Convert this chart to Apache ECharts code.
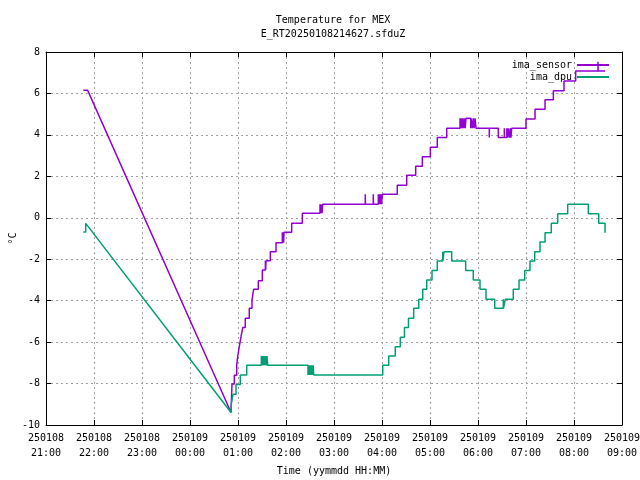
<!DOCTYPE html>
<html>
<head>
<meta charset="utf-8">
<script src="https://cdn.jsdelivr.net/npm/echarts@6.0.0/dist/echarts.min.js"></script>
<style>
  html, body { margin: 0; background: #fff; }
  #chart { width: 640px; height: 480px; }
</style>
</head>
<body>
<div id="chart"></div>
<script>
// time is in minutes after 250108 21:00, temperatures in degC
const xTickLabels = [
  '250108\n21:00', '250108\n22:00', '250108\n23:00', '250109\n00:00',
  '250109\n01:00', '250109\n02:00', '250109\n03:00', '250109\n04:00',
  '250109\n05:00', '250109\n06:00', '250109\n07:00', '250109\n08:00',
  '250109\n09:00'
];

// ima_sensor: each reading level held from..to
const sensorFrom = [46.6, 231.3, 232.5, 235.4, 238.4, 239.6, 241.6, 243.8, 245.9, 249.1,
  254.1, 257.5, 259.5, 265.4, 270.4, 274.2, 274.6, 275.0, 280.4, 287.5,
  295.4, 296.0, 296.6, 297.0, 297.5, 307.1, 320.4, 342.5, 343.3, 344.2,
  345.0, 345.9, 399.1, 399.3, 409.1, 409.3, 415.4, 416.2, 417.0, 417.8,
  418.6, 419.4, 420.4, 439.1, 450.9, 462.1, 470.4, 480.4, 489.1, 500.9,
  517.5, 518.5, 519.3, 520.0, 520.8, 522.0, 523.0, 524.0, 525.0, 530.9,
  531.3, 533.0, 534.0, 535.2, 536.3, 537.5, 554.1, 554.3, 565.4, 572.9,
  573.1, 576.0, 577.0, 578.0, 579.3, 580.5, 581.2, 582.1, 600.0, 611.3,
  623.8, 634.2, 647.5, 662.1, 690.0, 690.2];
const sensorTo = [52.1, 232.5, 235.4, 238.4, 239.6, 241.6, 243.8, 245.9, 249.1, 254.1,
  257.5, 259.5, 265.4, 270.4, 274.2, 274.6, 275.0, 280.4, 287.5, 295.4,
  296.0, 296.6, 297.0, 297.5, 307.1, 320.4, 342.5, 343.3, 344.2, 345.0,
  345.9, 399.1, 399.3, 409.1, 409.3, 415.4, 416.2, 417.0, 417.8, 418.6,
  419.4, 420.4, 439.1, 450.9, 462.1, 470.4, 480.4, 489.1, 500.9, 517.5,
  518.5, 519.3, 520.0, 520.8, 522.0, 523.0, 524.0, 525.0, 530.9, 531.3,
  533.0, 534.0, 535.2, 536.3, 537.5, 554.1, 554.3, 565.4, 572.9, 573.1,
  576.0, 577.0, 578.0, 579.3, 580.5, 581.2, 582.1, 600.0, 611.3, 623.8,
  634.2, 647.5, 662.1, 690.0, 690.2, 698.8];
const sensorTemp = [6.15, -9.40, -8.02, -7.60, -7.12, -6.70, -6.22, -5.74, -5.30, -4.85,
  -4.37, -3.97, -3.45, -3.04, -2.52, -2.07, -2.52, -2.07, -1.64, -1.20,
  -0.70, -1.20, -0.70, -1.20, -0.70, -0.27, 0.22, 0.65, 0.22, 0.65,
  0.22, 0.65, 1.13, 0.65, 1.13, 0.65, 1.13, 0.65, 1.13, 0.65,
  1.13, 0.65, 1.13, 1.57, 2.05, 2.49, 2.95, 3.40, 3.87, 4.32,
  4.80, 4.32, 4.80, 4.32, 4.80, 4.32, 4.80, 4.32, 4.80, 4.32,
  4.80, 4.32, 4.80, 4.32, 4.80, 4.32, 3.87, 4.32, 3.87, 4.32,
  3.87, 4.32, 3.87, 4.32, 3.87, 4.32, 3.87, 4.32, 4.77, 5.24,
  5.69, 6.13, 6.60, 7.08, 7.53, 7.08];

// ima_dpu
const dpuFrom = [46.6, 49.6, 231.3, 231.6, 233.8, 237.5, 242.9, 250.9,
  269.2, 269.8, 270.3, 271.3, 271.7, 272.6, 273.2, 274.0, 274.6, 275.6, 276.2, 277.1,
  327.5, 328.0, 328.5, 329.0, 329.5, 330.0, 330.5, 331.0, 331.5, 332.0, 332.5, 333.0, 333.5, 334.0,
  334.6, 420.9, 428.4, 436.6, 442.9, 448.1, 453.1, 459.6, 465.9, 470.9,
  475.9, 482.5, 489.1, 495.9, 496.1, 497.5, 507.1, 524.6, 534.1, 542.5,
  550.0, 560.9, 571.6, 571.8, 574.1, 584.1, 591.3, 598.4, 605.0, 610.9,
  617.5, 623.8, 631.6, 639.6, 652.1, 677.9, 690.9, 698.8];
const dpuTo = [49.6, 51.6, 231.6, 233.8, 237.5, 242.9, 250.9, 269.2,
  269.8, 270.3, 271.3, 271.7, 272.6, 273.2, 274.0, 274.6, 275.6, 276.2, 277.1, 327.5,
  328.0, 328.5, 329.0, 329.5, 330.0, 330.5, 331.0, 331.5, 332.0, 332.5, 333.0, 333.5, 334.0, 334.6,
  420.9, 428.4, 436.6, 442.9, 448.1, 453.1, 459.6, 465.9, 470.9, 475.9,
  482.5, 489.1, 495.9, 496.1, 497.5, 507.1, 524.6, 534.1, 542.5, 550.0,
  560.9, 571.6, 571.8, 574.1, 584.1, 591.3, 598.4, 605.0, 610.9, 617.5,
  623.8, 631.6, 639.6, 652.1, 677.9, 690.9, 698.8, 698.8];
const dpuTemp = [-0.69, -0.27, -9.40, -8.97, -8.52, -8.04, -7.59, -7.12,
  -6.67, -7.12, -6.67, -7.12, -6.67, -7.12, -6.67, -7.12, -6.67, -7.12, -6.67, -7.12,
  -7.59, -7.12, -7.59, -7.12, -7.59, -7.12, -7.59, -7.12, -7.59, -7.12, -7.59, -7.12, -7.59, -7.12,
  -7.59, -7.12, -6.67, -6.22, -5.76, -5.30, -4.85, -4.37, -3.93, -3.45,
  -3.00, -2.55, -2.08, -1.64, -2.08, -1.64, -2.08, -2.55, -3.00, -3.45,
  -3.93, -4.37, -3.93, -4.37, -3.93, -3.45, -3.00, -2.55, -2.08, -1.64,
  -1.17, -0.72, -0.27, 0.20, 0.65, 0.20, -0.27, -0.72];

function levelsToPoints(from, to, temp) {
  const pts = [];
  for (let i = 0; i < temp.length; i++) {
    pts.push([from[i], temp[i]]);
    pts.push([to[i], temp[i]]);
  }
  return pts;
}

const font = 'DejaVu Sans Mono';
const txt = { fontFamily: font, fontSize: 10, color: '#000' };

const chart = echarts.init(document.getElementById('chart'));
chart.setOption({
  animation: false,
  backgroundColor: '#fff',
  title: {
    text: 'Temperature for MEX\nE_RT20250108214627.sfduZ',
    left: 333,
    top: 13,
    padding: 0,
    textAlign: 'center',
    textStyle: Object.assign({ fontWeight: 'normal', lineHeight: 14 }, txt)
  },
  legend: {
    orient: 'vertical',
    align: 'right',
    right: 30,
    top: 60,
    itemWidth: 32,
    itemHeight: 10,
    itemGap: 2,
    padding: 0,
    itemStyle: { opacity: 0 },
    textStyle: txt,
    data: ['ima_sensor', 'ima_dpu']
  },
  grid: { left: 46, right: 18, top: 52, bottom: 55, containLabel: false, outerBoundsMode: 'none' },
  xAxis: [{
    type: 'value',
    min: 0, max: 720, interval: 60,
    name: 'Time (yymmdd HH:MM)',
    nameLocation: 'middle',
    nameGap: 41,
    nameMoveOverlap: false,
    nameTextStyle: txt,
    axisLine: { onZero: false, lineStyle: { color: '#000', width: 1 } },
    axisTick: { inside: true, length: 5, lineStyle: { color: '#000' } },
    axisLabel: Object.assign({
      margin: 6,
      lineHeight: 15,
      formatter: function (v) { return xTickLabels[Math.round(v / 60)]; }
    }, txt),
    splitLine: { show: true, lineStyle: { color: '#a0a0a0', type: [2, 3], width: 1 } }
  }, {
    type: 'value',
    position: 'top',
    min: 0, max: 720, interval: 60,
    axisLine: { onZero: false, lineStyle: { color: '#000', width: 1 } },
    axisTick: { inside: true, length: 5, lineStyle: { color: '#000' } },
    axisLabel: { show: false },
    splitLine: { show: false }
  }],
  yAxis: [{
    type: 'value',
    min: -10, max: 8, interval: 2,
    name: '°C',
    nameLocation: 'middle',
    nameRotate: 90,
    nameGap: 28,
    nameMoveOverlap: false,
    nameTextStyle: txt,
    axisLine: { show: true, onZero: false, lineStyle: { color: '#000', width: 1 } },
    axisTick: { show: true, inside: true, length: 5, lineStyle: { color: '#000' } },
    axisLabel: Object.assign({ margin: 6 }, txt),
    splitLine: { show: true, lineStyle: { color: '#a0a0a0', type: [2, 3], width: 1 } }
  }, {
    type: 'value',
    position: 'right',
    min: -10, max: 8, interval: 2,
    axisLine: { show: true, onZero: false, lineStyle: { color: '#000', width: 1 } },
    axisTick: { show: true, inside: true, length: 5, lineStyle: { color: '#000' } },
    axisLabel: { show: false },
    splitLine: { show: false }
  }],
  series: [{
    name: 'ima_sensor',
    type: 'line',
    symbol: 'none',
    showSymbol: false,
    color: '#9400d3',
    lineStyle: { width: 1.5, color: '#9400d3' },
    data: levelsToPoints(sensorFrom, sensorTo, sensorTemp)
  }, {
    name: 'ima_dpu',
    type: 'line',
    symbol: 'none',
    showSymbol: false,
    color: '#009e73',
    lineStyle: { width: 1.5, color: '#009e73' },
    data: levelsToPoints(dpuFrom, dpuTo, dpuTemp)
  }]
});
</script>
</body>
</html>
